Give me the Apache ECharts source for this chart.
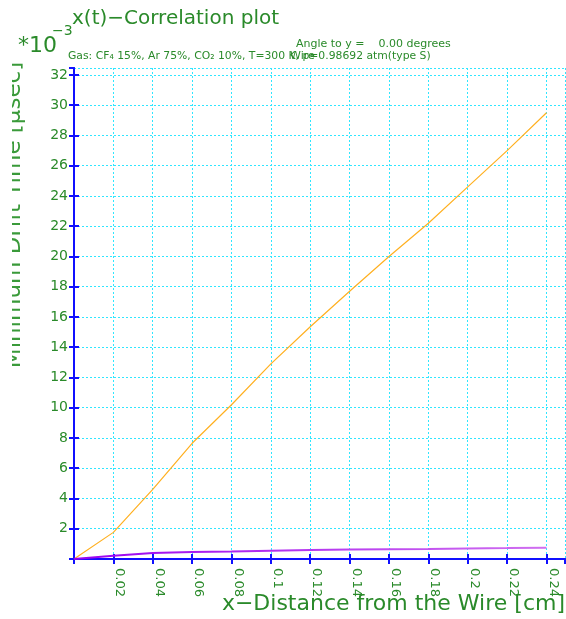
<!DOCTYPE html>
<html>
<head>
<meta charset="utf-8">
<script src="https://cdn.jsdelivr.net/npm/echarts@6/dist/echarts.min.js"></script>
<style>
html,body{margin:0;padding:0;background:#fff;}
#chart{width:566px;height:619px;}
</style>
</head>
<body>
<div id="chart"></div>
<script>
// Data
var xValues = [0, 0.02, 0.04, 0.06, 0.08, 0.10, 0.12, 0.14, 0.16, 0.18, 0.20, 0.22, 0.24];
var driftOrange = [0, 1.76, 4.6, 7.65, 10.2, 12.9, 15.35, 17.7, 20.0, 22.2, 24.6, 27.0, 29.5];
var driftPurple = [0, 0.22, 0.4, 0.46, 0.5, 0.55, 0.59, 0.62, 0.64, 0.66, 0.7, 0.72, 0.75];
var titleText = 'x(t)\u2212Correlation plot';
var gasText = 'Gas: CF\u2084 15%, Ar 75%, CO\u2082 10%, T=300 K, p=0.98692 atm(type S)';
var angleText = 'Angle to y =    0.00 degrees';
var wireText = 'Wire';
var xTitle = 'x\u2212Distance from the Wire [cm]';
var yTitle = 'Minimum Drift Time [\u03bcsec]';

var green = '#2a8a2a';
var blue = '#1010ff';
var cyan = '#30e6ff';
var font = 'DejaVu Sans';

function pairs(xs, ys) { return xs.map(function (x, i) { return [x, ys[i]]; }); }

var chart = echarts.init(document.getElementById('chart'), null, { renderer: 'canvas' });
var xMin = 0, xMax = 0.2494, yMin = 0, yMax = 32.46;

var axisCommon = {
  type: 'value',
  axisLine: { show: true, lineStyle: { color: blue, width: 2 } },
  axisTick: { show: true, inside: true, length: 5, lineStyle: { color: blue, width: 2 } }
};

chart.setOption({
  animation: false,
  backgroundColor: '#fff',
  grid: { left: 74, right: 1, top: 68, bottom: 60, containLabel: false },
  xAxis: [
    Object.assign({}, axisCommon, {
      min: xMin, max: xMax, interval: 0.02, position: 'bottom',
      axisLabel: {
        show: true, rotate: -90, margin: 9, color: green, fontFamily: font, fontSize: 13,
        verticalAlign: 'bottom',
        showMinLabel: false, showMaxLabel: false,
        formatter: function (v) { return v === 0 ? '' : String(+v.toFixed(2)); }
      },
      splitLine: { show: true, lineStyle: { color: cyan, type: [2, 2], width: 1 } }
    }),
    Object.assign({}, axisCommon, {
      min: xMin, max: xMax, interval: 0.02, position: 'top',
      axisLabel: { show: false }, splitLine: { show: false }
    })
  ],
  yAxis: [
    Object.assign({}, axisCommon, {
      min: yMin, max: yMax, interval: 2, position: 'left',
      axisLabel: {
        show: true, margin: 6, color: green, fontFamily: font, fontSize: 14,
        showMinLabel: false, showMaxLabel: false,
        formatter: function (v) { return v === 0 ? '' : String(v); }
      },
      splitLine: { show: true, lineStyle: { color: cyan, type: [2, 2], width: 1 } }
    }),
    Object.assign({}, axisCommon, {
      min: yMin, max: yMax, interval: 2, position: 'right',
      axisLabel: { show: false }, splitLine: { show: false }
    })
  ],
  series: [
    {
      type: 'line', xAxisIndex: 0, yAxisIndex: 0, data: pairs(xValues, driftOrange),
      showSymbol: false, symbol: 'none', lineStyle: { color: '#ffb020', width: 1.2 }, z: 3
    },
    {
      type: 'line', xAxisIndex: 0, yAxisIndex: 0, data: pairs(xValues, driftPurple),
      showSymbol: false, symbol: 'none',
      lineStyle: {
        width: 2,
        color: new echarts.graphic.LinearGradient(0, 0, 1, 0, [
          { offset: 0, color: '#9a00f0' },
          { offset: 1, color: '#d070f0' }
        ])
      }, z: 3
    }
  ],
  graphic: [
    { type: 'text', left: 72, top: 9, style: { text: titleText, fill: green, font: '20px "' + font + '"' } },
    { type: 'text', left: 18, top: 35, style: { text: '*10', fill: green, font: '22px "' + font + '"' } },
    { type: 'text', left: 52, top: 24, style: { text: '\u22123', fill: green, font: '14px "' + font + '"' } },
    { type: 'text', left: 68, top: 51, style: { text: gasText, fill: green, font: '10.8px "' + font + '"' } },
    { type: 'text', left: 296, top: 39, style: { text: angleText, fill: green, font: '11px "' + font + '"' } },
    { type: 'text', left: 290, top: 51, style: { text: wireText, fill: green, font: '11px "' + font + '"' } },
    { type: 'text', right: 1, top: 593, style: { text: xTitle, fill: green, font: '22px "' + font + '"' } },
    {
      type: 'text', x: 26, y: 215, rotation: Math.PI / 2, z: 10,
      style: { text: yTitle, fill: '#3a9a3a', font: '23px "' + font + '"', textAlign: 'center', textVerticalAlign: 'bottom' }
    },
    { type: 'rect', shape: { x: 0, y: 50, width: 12, height: 340 }, style: { fill: '#fff' }, z: 100 }
  ]
});
</script>
</body>
</html>
